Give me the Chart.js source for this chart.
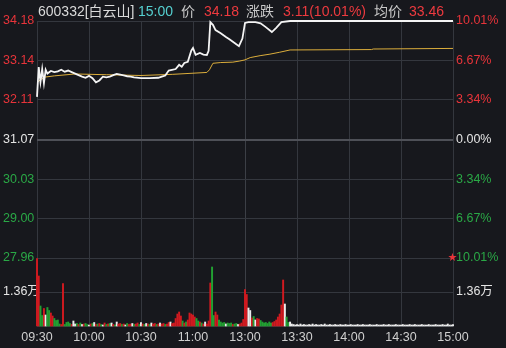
<!DOCTYPE html>
<html>
<head>
<meta charset="utf-8">
<script src="https://cdn.jsdelivr.net/npm/chart.js@4.4.0/dist/chart.umd.min.js"></script>
<style>
  html, body { margin: 0; padding: 0; background: #17181d; }
  #wrap { position: relative; width: 506px; height: 348px; overflow: hidden;
          font-family: "Liberation Sans", "Noto Sans CJK SC", sans-serif; }
  #wrap canvas { position: absolute; left: 0; top: 0; }
  .hd { position: absolute; top: 3px; font-size: 14px; line-height: 16px; white-space: nowrap; }
  .star { position: absolute; left: 448px; top: 251px; font-size: 9px; line-height: 12px; color: #e8343a; }
</style>
</head>
<body>
<div id="wrap">
  <canvas id="c" width="506" height="348"></canvas>
  <span class="hd" style="left:38px;color:#dadada">600332[白云山]</span>
  <span class="hd" style="left:138px;color:#55d0d0">15:00</span>
  <span class="hd" style="left:181px;color:#c8c8c8">价</span>
  <span class="hd" style="left:204px;color:#ee3a3f">34.18</span>
  <span class="hd" style="left:246px;color:#c8c8c8">涨跌</span>
  <span class="hd" style="left:283px;color:#ee3a3f">3.11(10.01%)</span>
  <span class="hd" style="left:374px;color:#c8c8c8">均价</span>
  <span class="hd" style="left:409px;color:#ee3a3f">33.46</span>
  <span class="star">★</span>
</div>
<script>
// ---- data ----
const timeLabels = ['09:30', '10:00', '10:30', '11:00', '13:00', '13:30', '14:00', '14:30', '15:00'];

const priceTicks = [34.18, 33.14, 32.11, 31.07, 30.03, 29.00, 27.96];
const priceTickLabels = ['34.18', '33.14', '32.11', '31.07', '30.03', '29.00', '27.96'];
const pctTickLabels = ['10.01%', '6.67%', '3.34%', '0.00%', '3.34%', '6.67%', '10.01%'];
const volTick = 1.36;          // 万
const volTickLabel = '1.36万';
const volTop = 2.72;           // 万, top of the volume pane

// minute index (0 = 09:30, 120 = 11:30/13:00, 240 = 15:00)
const priceMin = [0, 1, 2, 3, 4, 5, 6, 8, 10, 12, 14, 16, 18, 20, 22, 24, 26, 28, 30, 32, 34, 36, 38, 40,
  42, 44, 46, 48, 50, 52, 54, 56, 60, 65, 70, 72, 74, 76, 80, 82, 83.5, 85, 87, 89, 90, 91.5, 94, 96, 98, 99,
  100, 101.5, 103, 106, 109, 111, 114, 116.5, 118.5, 120, 122, 126, 129, 132, 135.5, 138, 141, 146, 240];
const priceVal = [32.19, 32.97, 32.58, 32.92, 32.55, 32.90, 32.80, 32.87, 32.84, 32.86, 32.90, 32.85, 32.88, 32.84,
  32.80, 32.76, 32.72, 32.69, 32.74, 32.68, 32.57, 32.62, 32.72, 32.70, 32.72, 32.76, 32.79, 32.77, 32.75, 32.73,
  32.72, 32.70, 32.68, 32.68, 32.69, 32.72, 32.75, 32.88, 32.92, 33.03, 32.98, 33.08, 33.11, 33.40, 33.47, 33.29,
  33.34, 33.30, 33.29, 33.40, 34.15, 34.08, 33.94, 33.86, 33.76, 33.70, 33.60, 33.52, 33.72, 34.13, 34.15, 34.15,
  34.12, 34.02, 33.89, 34.00, 34.15, 34.18, 34.18];

const avgMin = [0, 2, 5, 10, 22, 40, 60, 78, 98, 99.5, 101.5, 106, 113, 117, 120, 123, 128.7, 134.4, 140, 146, 193, 194, 240];
const avgVal = [32.56, 32.64, 32.71, 32.74, 32.79, 32.77, 32.75, 32.78, 32.83, 32.90, 33.07, 33.09, 33.10, 33.13,
  33.16, 33.22, 33.27, 33.31, 33.36, 33.42, 33.43, 33.445, 33.46];

// volume per minute, 万
const volume = [
  2.70, 2.00, 0.80, 0.42, 0.70, 0.44, 0.74, 0.62, 0.52, 0.40,
  0.30, 0.22, 0.24, 0.08, 0.06, 1.70, 0.06, 0.14, 0.16, 0.10,
  0.06, 0.20, 0.08, 0.10, 0.06, 0.12, 0.06, 0.08, 0.10, 0.06,
  0.04, 0.08, 0.10, 0.14, 0.06, 0.08, 0.10, 0.06, 0.04, 0.12,
  0.06, 0.08, 0.10, 0.12, 0.06, 0.04, 0.16, 0.08, 0.10, 0.06,
  0.08, 0.04, 0.10, 0.06, 0.08, 0.10, 0.06, 0.08, 0.12, 0.06,
  0.14, 0.08, 0.06, 0.10, 0.08, 0.06, 0.12, 0.08, 0.10, 0.06,
  0.08, 0.12, 0.08, 0.10, 0.06, 0.08, 0.14, 0.16, 0.10, 0.12,
  0.30, 0.48, 0.56, 0.40, 0.20, 0.12, 0.16, 0.24, 0.52, 0.48,
  0.44, 0.36, 0.30, 0.20, 0.16, 0.12, 0.08, 0.16, 0.08, 0.20,
  1.72, 2.36, 0.42, 0.56, 0.44, 0.24, 0.16, 0.12, 0.14, 0.08,
  0.12, 0.10, 0.12, 0.06, 0.08, 0.10, 0.06, 0.08, 0.12, 0.26,
  1.46, 1.26, 0.72, 0.62, 0.32, 0.38, 0.24, 0.30, 0.28, 0.22,
  0.16, 0.12, 0.14, 0.10, 0.16, 0.12, 0.14, 0.18, 0.24, 0.36,
  0.48, 0.84, 1.84, 0.88, 0.36, 0.14, 0.16, 0.08, 0.06, 0.04,
  0.06, 0.04, 0.08, 0.04, 0.06, 0.04, 0.04, 0.06, 0.04, 0.08,
  0.04, 0.06, 0.04, 0.04, 0.06, 0.04, 0.08, 0.04, 0.04, 0.06,
  0.04, 0.04, 0.06, 0.04, 0.04, 0.06, 0.04, 0.04, 0.06, 0.04,
  0.04, 0.06, 0.04, 0.04, 0.04, 0.06, 0.04, 0.04, 0.06, 0.04,
  0.04, 0.04, 0.06, 0.04, 0.04, 0.04, 0.06, 0.04, 0.04, 0.04,
  0.06, 0.04, 0.04, 0.06, 0.04, 0.04, 0.04, 0.06, 0.04, 0.04,
  0.04, 0.06, 0.04, 0.04, 0.04, 0.06, 0.04, 0.04, 0.06, 0.04,
  0.04, 0.04, 0.06, 0.04, 0.04, 0.04, 0.06, 0.04, 0.04, 0.04,
  0.06, 0.04, 0.04, 0.04, 0.06, 0.04, 0.04, 0.08, 0.04, 0.04,
  0.06
];
// r = up, g = down, w = flat
const volDir =
  'rrggrwggrr' + 'ggggrrgggg' + 'rwwgrgwrgg' + 'wrgwrgrgwr' + 'grgwrgwrrg' +
  'rwgrrwgrrg' + 'wrgwrgwrrg' + 'rwrrgrrwrr' + 'rrrrgrgrrr' + 'rrggrgrwrr' +
  'rggrrggggw' + 'gggrggwrrr' + 'rrwwrgwrrg' + 'ggggggrrrr' + 'rrrwggwwww' +
  'wwwwwwwwww' + 'wwwwwwwwww' + 'wwwwwwwwww' + 'wwwwwwwwww' + 'wwwwwwwwww' +
  'wwwwwwwwww' + 'wwwwwwwwww' + 'wwwwwwwwww' + 'wwwwwwwwww' + 'w';

// ---- look ----
const RED = '#e8343a', GREEN = '#2aa846', WHITE = '#e4e4e4';
const BAR = { r: '#d01a20', g: '#22a032', w: '#ececec' };
const GRID = '#34373e', GRID_MID = '#4e5057';
const tickColors = [RED, RED, RED, WHITE, GREEN, GREEN, GREEN, WHITE, 'rgba(0,0,0,0)'];

// layout: price pane is 237px of the 305px plot, volume pane the rest
const PRICE_FRAC = 237 / 305;
const yMin = priceTicks[6] - (priceTicks[0] - priceTicks[6]) * (1 / PRICE_FRAC - 1);
const volMax = volTop / (1 - PRICE_FRAC);
const volGridPrice = yMin + (volTick / volTop) * (priceTicks[6] - yMin);
const yTickValues = priceTicks.concat([volGridPrice, yMin]);
const leftLabels = priceTickLabels.concat([volTickLabel, '']);
const rightLabels = pctTickLabels.concat([volTickLabel, '']);

const setTicks = function (scale) { scale.ticks = yTickValues.map(function (v) { return { value: v }; }); };
const tickFont = { family: '"Liberation Sans", "Noto Sans CJK SC", sans-serif', size: 12.5 };

new Chart(document.getElementById('c'), {
  type: 'line',
  data: {
    datasets: [
      {
        type: 'bar',
        xAxisID: 'x', yAxisID: 'yv',
        data: volume.map(function (v, i) { return { x: i, y: v }; }),
        backgroundColor: volume.map(function (_, i) { return BAR[volDir[i]]; }),
        barThickness: 1.3,
        clip: 3,
        order: 3
      },
      {
        xAxisID: 'x', yAxisID: 'y',
        data: avgMin.map(function (m, i) { return { x: m, y: avgVal[i] }; }),
        borderColor: '#dcae3c', borderWidth: 1, pointRadius: 0, tension: 0, clip: 4,
        order: 2
      },
      {
        xAxisID: 'x', yAxisID: 'y',
        data: priceMin.map(function (m, i) { return { x: m, y: priceVal[i] }; }),
        borderColor: '#f4f4f4', borderWidth: 1.8, pointRadius: 0, tension: 0, clip: 4,
        order: 1
      }
    ]
  },
  options: {
    responsive: false,
    animation: false,
    events: [],
    layout: { padding: { left: 3, top: 21, right: 0, bottom: 0 } },
    plugins: { legend: { display: false }, tooltip: { enabled: false } },
    scales: {
      x: {
        type: 'linear', min: 0, max: 240, offset: false,
        afterBuildTicks: function (scale) {
          scale.ticks = timeLabels.map(function (_, i) { return { value: i * 30 }; });
        },
        afterFit: function (scale) { scale.height = 22; },
        grid: {
          offset: false, drawTicks: false,
          color: function (ctx) { return ctx.index === 4 ? '#3c3f46' : GRID; }
        },
        border: { display: false },
        ticks: {
          color: '#cfcfcf', font: tickFont, padding: 4, maxRotation: 0, autoSkip: false,
          callback: function (v, i) { return timeLabels[i]; }
        }
      },
      y: {
        position: 'left', min: yMin, max: priceTicks[0],
        afterBuildTicks: setTicks,
        afterFit: function (scale) { scale.width = 34; },
        grid: {
          drawTicks: false,
          color: function (ctx) { return ctx.index === 3 ? GRID_MID : GRID; },
          lineWidth: function (ctx) { return ctx.index === 3 ? 2 : 1; }
        },
        border: { display: false },
        ticks: {
          crossAlign: 'far', padding: 3, font: tickFont,
          color: function (ctx) { return tickColors[ctx.index]; },
          callback: function (v, i) { return leftLabels[i]; }
        }
      },
      yr: {
        position: 'right', min: yMin, max: priceTicks[0],
        afterBuildTicks: setTicks,
        afterFit: function (scale) { scale.width = 53; },
        grid: { display: false, drawTicks: false },
        border: { display: false },
        ticks: {
          padding: 3, font: tickFont,
          color: function (ctx) { return tickColors[ctx.index]; },
          callback: function (v, i) { return rightLabels[i]; }
        }
      },
      yv: {
        display: false, position: 'left', min: 0, max: volMax
      }
    }
  }
});
</script>
</body>
</html>
